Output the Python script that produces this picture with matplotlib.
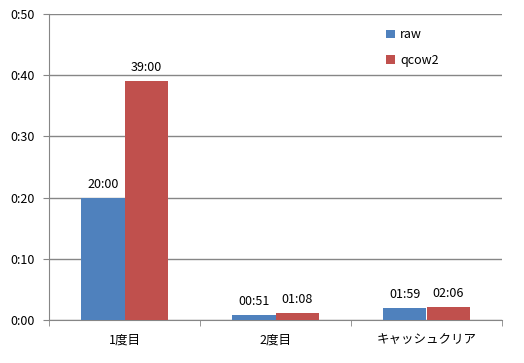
# Bar chart: raw vs qcow2 timing
import matplotlib.pyplot as plt
import numpy as np

plt.rcParams['font.family'] = ['Noto Sans CJK JP', 'DejaVu Sans']

categories = ['1度目', '2度目', 'キャッシュクリア']
raw_minutes = [20.0, 51 / 60, 1 + 59 / 60]
qcow2_minutes = [39.0, 1 + 8 / 60, 2 + 6 / 60]
raw_labels = ['20:00', '00:51', '01:59']
qcow2_labels = ['39:00', '01:08', '02:06']
y_ticks = [0, 10, 20, 30, 40, 50]

fig = plt.figure(figsize=(5.24, 3.63), dpi=100)
ax = fig.add_axes([49 / 524, 43 / 363, 453 / 524, 306 / 363])

x = np.arange(len(categories))
width = 0.285
grid_color = '#868686'

b1 = ax.bar(x - width / 2, raw_minutes, width, color='#4F81BD', label='raw', zorder=3)
b2 = ax.bar(x + width / 2, qcow2_minutes, width, color='#C0504D', label='qcow2', zorder=3)

for bars, labels in ((b1, raw_labels), (b2, qcow2_labels)):
    for bar, lab in zip(bars, labels):
        ax.annotate(lab, (bar.get_x() + bar.get_width() / 2, bar.get_height()),
                    xytext=(0, 5), textcoords='offset points',
                    ha='center', va='bottom', fontsize=9)

ax.set_xlim(-0.5, len(categories) - 0.5)
ax.set_ylim(0, 50)
ax.set_yticks(y_ticks)
ax.set_yticklabels([f'0:{v:02d}' for v in y_ticks], fontsize=9)
ax.yaxis.grid(True, color=grid_color, linewidth=1, zorder=0)

ax.set_xticks(x)
ax.set_xticklabels(categories, fontsize=9)
ax.tick_params(axis='x', length=0, pad=10)
ax.set_xticks(np.arange(len(categories) + 1) - 0.5, minor=True)
ax.tick_params(axis='x', which='minor', length=4, color=grid_color)
ax.tick_params(axis='y', length=4, color=grid_color, pad=6)

for side in ('top', 'right'):
    ax.spines[side].set_visible(False)
for side in ('left', 'bottom'):
    ax.spines[side].set_color(grid_color)

ax.legend(loc='upper left', bbox_to_anchor=(0.72, 0.99), frameon=False,
          fontsize=9, handlelength=0.7, handleheight=0.7, labelspacing=1.0,
          handletextpad=0.4)

plt.savefig('out.png', dpi=100)
plt.close()
